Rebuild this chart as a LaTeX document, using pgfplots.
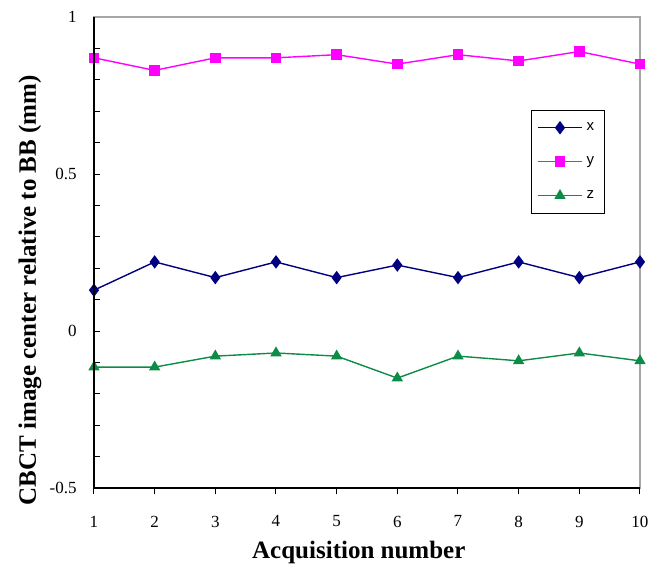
\documentclass[border=0pt]{standalone}
\usepackage{fontspec}
\setmainfont{Liberation Serif}
\setsansfont{Liberation Sans}
\usepackage{pgfplots}
\pgfplotsset{compat=1.18}
\definecolor{cx}{rgb}{0,0,0.5}
\definecolor{cy}{rgb}{1,0,1}
\definecolor{cz}{rgb}{0.05,0.55,0.28}
\begin{document}
\begin{tikzpicture}
\useasboundingbox (-47pt,-40.5pt) rectangle (277.5pt,244pt);
\begin{axis}[
  at={(0,0)}, anchor=south west,
  scale only axis,
  width=273pt, height=235.5pt,
  xmin=1, xmax=10, ymin=-0.5, ymax=1,
  xtick={1,...,10},
  ytick={-0.5,0,0.5,1},
  yticklabels={-0.5,0,0.5,1},
  minor y tick num=4,
  xtick pos=bottom, ytick pos=left,
  xtick align=outside, ytick align=inside,
  major tick length=3.2pt, minor tick length=3.2pt,
  tick style={black, line width=0.5pt},
  axis line style={draw=gray!70, line width=0.6pt},
  /pgf/number format/assume math mode=true,
  ticklabel style={font=\fontsize{8.5}{10}\selectfont},
  yticklabel style={inner sep=0pt, xshift=-8.5pt},
  xticklabel style={inner sep=0pt, yshift=-10.5pt},
  xlabel={Acquisition number},
  ylabel={CBCT image center relative to BB (mm)},
  label style={font=\bfseries\fontsize{12.5}{14}\selectfont},
  xlabel style={at={(rel axis cs:0.485,0)}, anchor=center, yshift=-32pt},
  ylabel style={at={(rel axis cs:0,0.42)}, anchor=center, yshift=32pt},
  legend style={at={(rel axis cs:0.80,0.803)}, anchor=north west, draw=black, line width=0.5pt,
    font=\sffamily\fontsize{7.5}{9}\selectfont, row sep=7.5pt, inner xsep=3pt, inner ysep=4pt,
    cells={anchor=west}},
  legend image code/.code={\draw[#1, mark repeat=2, mark phase=2] plot coordinates {(0pt,0pt) (11pt,0pt) (22pt,0pt)};},
  every axis plot/.append style={line width=0.7pt},
  after end axis/.code={\draw[black, line width=0.6pt] (rel axis cs:0,1) -- (rel axis cs:0,0) -- (rel axis cs:1,0);},
]
\addplot[color=cx, mark=diamond*, mark size=2.8pt, mark options={fill=cx}] coordinates {
(1,0.13) (2,0.22) (3,0.17) (4,0.22) (5,0.17) (6,0.21) (7,0.17) (8,0.22) (9,0.17) (10,0.22)};
\addlegendentry{x}
\addplot[color=cy, mark=square*, mark size=2.3pt, mark options={fill=cy}] coordinates {
(1,0.87) (2,0.83) (3,0.87) (4,0.87) (5,0.88) (6,0.85) (7,0.88) (8,0.86) (9,0.89) (10,0.85)};
\addlegendentry{y}
\addplot[color=cz, mark=triangle*, mark size=2.6pt, mark options={fill=cz}] coordinates {
(1,-0.115) (2,-0.115) (3,-0.08) (4,-0.07) (5,-0.08) (6,-0.15) (7,-0.08) (8,-0.095) (9,-0.07) (10,-0.095)};
\addlegendentry{z}
\end{axis}
\end{tikzpicture}
\end{document}
